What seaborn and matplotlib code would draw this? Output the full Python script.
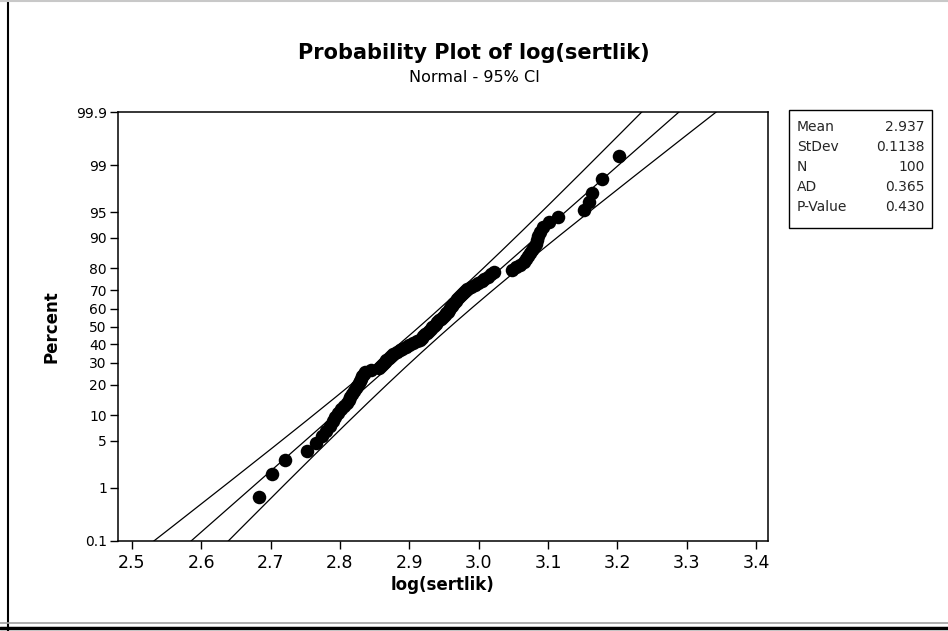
import math
from statistics import NormalDist

import numpy as np
import pandas as pd
import matplotlib
matplotlib.use("Agg")
import matplotlib.pyplot as plt
from matplotlib.lines import Line2D
from matplotlib.patches import Rectangle
import seaborn as sns

# sorted sample (rank 1..100)
LOG_SERTLIK = [
    2.683, 2.702, 2.721, 2.752, 2.766, 2.774, 2.780, 2.785, 2.790, 2.793,
    2.797, 2.802, 2.806, 2.810, 2.813, 2.815, 2.818, 2.820, 2.823, 2.825,
    2.827, 2.829, 2.830, 2.832, 2.834, 2.836, 2.845, 2.856, 2.859, 2.862,
    2.865, 2.867, 2.870, 2.873, 2.877, 2.882, 2.886, 2.890, 2.895, 2.900,
    2.905, 2.911, 2.915, 2.918, 2.920, 2.923, 2.926, 2.928, 2.931, 2.933,
    2.936, 2.938, 2.940, 2.943, 2.946, 2.948, 2.951, 2.953, 2.955, 2.957,
    2.959, 2.961, 2.963, 2.965, 2.967, 2.969, 2.972, 2.975, 2.978, 2.980,
    2.983, 2.989, 2.994, 2.999, 3.004, 3.008, 3.013, 3.018, 3.022, 3.048,
    3.054, 3.060, 3.065, 3.068, 3.071, 3.074, 3.077, 3.080, 3.082, 3.084,
    3.086, 3.089, 3.092, 3.101, 3.114, 3.152, 3.159, 3.164, 3.177, 3.202,
]

# summary table shown at the right
MEAN = 2.937
STDEV = 0.1138
N = 100
STAT_LABELS = ["Mean", "StDev", "N", "AD", "P-Value"]
STAT_VALUES = ["2.937", "0.1138", "100", "0.365", "0.430"]

PCT_TICKS = [0.1, 1, 5, 10, 20, 30, 40, 50, 60, 70, 80, 90, 95, 99, 99.9]
PCT_LABELS = ["0.1", "1", "5", "10", "20", "30", "40", "50", "60", "70",
              "80", "90", "95", "99", "99.9"]
X_TICKS = [2.5, 2.6, 2.7, 2.8, 2.9, 3.0, 3.1, 3.2, 3.3, 3.4]

W, H = 948, 631

_nd = NormalDist()
_ppf = np.vectorize(_nd.inv_cdf, otypes=[float])
_cdf = np.vectorize(_nd.cdf, otypes=[float])


def pct_to_z(p):
    p = np.clip(np.asarray(p, dtype=float), 1e-7, 100 - 1e-7)
    return _ppf(p / 100.0)


def z_to_pct(z):
    return _cdf(np.asarray(z, dtype=float)) * 100.0


# median-rank plotting positions
ranks = np.arange(1, N + 1)
pts = pd.DataFrame({"x": LOG_SERTLIK, "pct": (ranks - 0.3) / (N + 0.4) * 100})

# fitted line and 95% CI for the percentiles
z = np.linspace(-3.8, 3.8, 200)
half = 1.96 * STDEV * np.sqrt((1 + z ** 2 / 2) / N)
fit = pd.DataFrame({"pct": z_to_pct(z), "fit": MEAN + z * STDEV})
fit["lower"] = fit["fit"] - half
fit["upper"] = fit["fit"] + half

sns.set_style("white")
plt.rcParams["font.family"] = ["DejaVu Sans"]

fig = plt.figure(figsize=(W / 100, H / 100), dpi=100)
ax = fig.add_axes([118 / W, 1 - 541 / H, 650 / W, 429 / H])

for col in ["lower", "fit", "upper"]:
    sns.lineplot(x=fit[col], y=fit["pct"], sort=False, estimator=None,
                 color="black", lw=0.9, ax=ax)
sns.scatterplot(data=pts, x="x", y="pct", color="black", s=95,
                linewidth=0, ax=ax, zorder=3)

ax.set_yscale("function", functions=(pct_to_z, z_to_pct))
ax.set_xlim(2.48, 3.417)
ax.set_ylim(0.1, 99.9)
ax.set_yticks(PCT_TICKS, PCT_LABELS)
ax.set_xticks(X_TICKS, [f"{v:.1f}" for v in X_TICKS])
ax.minorticks_off()
ax.tick_params(axis="both", direction="out", length=6, width=1, color="black",
               left=True, bottom=True, labelcolor="black")
ax.tick_params(axis="x", labelsize=12.5, pad=3)
ax.tick_params(axis="y", labelsize=10, pad=2)
for sp in ax.spines.values():
    sp.set_color("black")
    sp.set_linewidth(1.1)

ax.set_xlabel("log(sertlik)", fontsize=12, fontweight="bold", labelpad=3,
              color="black")
ax.set_ylabel("Percent", fontsize=12, fontweight="bold", color="black")
ax.yaxis.set_label_coords((60 - 118) / 650, 0.5)

fig.text(474 / W, 1 - 53 / H, "Probability Plot of log(sertlik)",
         ha="center", va="center", fontsize=15, fontweight="bold", color="black")
fig.text(474 / W, 1 - 78 / H, "Normal - 95% CI",
         ha="center", va="center", fontsize=11.5, color="black")

# stats box
fig.add_artist(Rectangle((789 / W, 1 - 228 / H), 143 / W, 118 / H,
                         transform=fig.transFigure, fill=False,
                         edgecolor="black", lw=1.0))
for k, (lab, val) in enumerate(zip(STAT_LABELS, STAT_VALUES)):
    yy = 1 - (127 + k * 20) / H
    fig.text(797 / W, yy, lab, ha="left", va="center", fontsize=10)
    fig.text(925 / W, yy, val, ha="right", va="center", fontsize=10)

# window frame
fig.add_artist(Line2D([8 / W, 8 / W], [0, 1], transform=fig.transFigure,
                      color="black", lw=1.5))
fig.add_artist(Line2D([0, 1], [1 - 1 / H, 1 - 1 / H], transform=fig.transFigure,
                      color="#c8c8c8", lw=1.5))
fig.add_artist(Line2D([0, 1], [1 - 623 / H, 1 - 623 / H], transform=fig.transFigure,
                      color="#a0a0a0", lw=1.2))
fig.add_artist(Line2D([0, 1], [1 - 628 / H, 1 - 628 / H], transform=fig.transFigure,
                      color="black", lw=2.5))

fig.savefig("out.png", dpi=100)
